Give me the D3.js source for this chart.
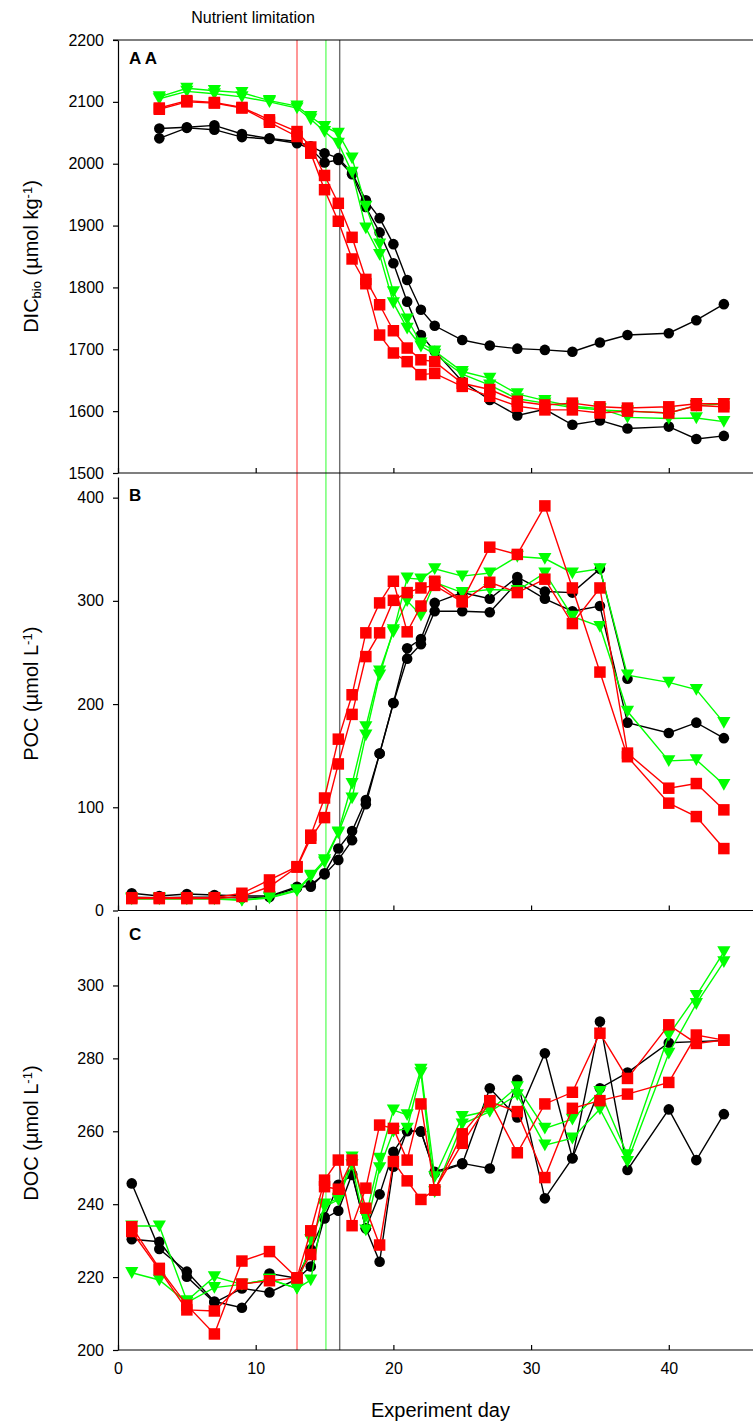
<!DOCTYPE html>
<html><head><meta charset="utf-8">
<script src="https://cdn.jsdelivr.net/npm/d3@7/dist/d3.min.js"></script>
<style>
body{margin:0;background:#fff}
svg{display:block}
text{font-family:Arial,"Liberation Sans",sans-serif;fill:#000}
</style>
</head><body>
<svg id="chart" width="753" height="1422"></svg>
<script>
// ---------- data ----------
const days = [1,3,5,7,9,11,13,14,15,16,17,18,19,20,21,22,23,25,27,29,31,33,35,37,40,42,44];

// Panel A: DIC_bio (µmol kg-1)
const dicBlack1 = [null,2057,2059,2062,2048,2041,2036,2028,2017,2009,1985,1941,1912,1870,1812,1764,1738,1715,1706,1701,1699,1696,1711,1723,1726,1747,1773];
const dicBlack2 = [null,2041,2058,2055,2043,2040,2033,2024,2002,2006,1983,1930,1889,1839,1777,1723,1697,1648,1618,1593,1603,1578,1585,1572,1575,1555,1560];
const dicGreen1 = [null,2108,2122,2118,2115,2102,2093,2076,2060,2049,2009,1931,1870,1793,1749,1710,1697,1664,1653,1628,1617,1608,1604,1590,1588,1589,1583];
const dicGreen2 = [null,2105,2117,2113,2108,2100,2090,2072,2052,2033,1986,1896,1853,1775,1734,1705,1692,1660,1642,1620,1613,1606,1602,1600,1597,1609,1612];
const dicRed1   = [null,2090,2102,2099,2091,2071,2052,2027,1981,1936,1881,1813,1772,1730,1702,1683,1680,1645,1635,1616,1610,1613,1607,1605,1607,1612,1612];
const dicRed2   = [null,2088,2100,2098,2090,2067,2044,2017,1958,1907,1846,1806,1723,1694,1680,1659,1661,1640,1624,1608,1602,1602,1597,1600,1597,1609,1607];

// Panel B: POC (µmol L-1)
const pocBlack1 = [16.7,14,16,15,14,14,23,23,36,60,77,107,152,201,254,263,298,308,302,323,309,308,331,224.5,null,null,null];
const pocBlack2 = [13,12.5,13,13,12,13,22,25,35,49,68,103,152,201,244,258,290,290,289,318,302,290,295,182,172,182,167];
const pocGreen1 = [12,12,12,12,10,13,20,34,49,76,123,178,232,270,322,321,331,324,327,343,341,327,331,228,221,214,182];
const pocGreen2 = [11,11,11,11,10,12,19,33,47,75,109,170,228,272,300,286,318,308,311,310,327,285,275,193,145,146,122];
const pocRed1   = [12.4,12.4,12.4,12.4,16.7,29.6,42.5,73,109,166,209,269,298,319,270,295,319,300,352,345,392,312.5,231,149,104,91,60];
const pocRed2   = [11.5,11.5,11.5,11.5,13.6,23,42,70,90,142,190,246,269,300.5,308,312.5,315,299,318,308,321,278,312.5,152.5,118.5,123,97.5];

// Panel C: DOC (µmol L-1)
const docBlack1 = [245.7,227.7,221.5,213.3,211.6,221,219.7,227.6,236.1,238.2,248.3,233.4,224.2,250.3,260.2,259.9,248.9,251.2,249.8,274.1,241.6,252.6,290.1,249.4,266,252.1,264.7];
const docBlack2 = [230.4,229.7,220.1,213,216.9,215.8,219.5,222.9,236.5,245.3,248,233.4,242.7,254.4,260,260,248.5,251,271.8,263.8,281.4,252.6,271.8,276.1,284.3,284.6,284.9];
const docGreen1 = [234,234,213.5,220.1,218,219.4,216.9,230.2,239.3,241.2,252.9,236.6,252.6,265.8,264.5,277,247.5,264,265.7,272.2,260.8,263.3,270.9,253.5,286.4,297.2,309.2];
const docGreen2 = [221.2,219.2,213,217.1,218,219.4,216.9,219.2,240,241.6,250.8,232.9,250,260,260.8,276,243.4,262,265.4,270,256.2,258.1,266.1,251.7,281.4,295,306.5];
const docRed1   = [233.8,222.4,212.3,204.4,224.4,227,219.8,232.7,246.6,252.1,234.1,244.4,261.7,260.8,252.1,267.5,243.9,259.3,268.4,254.1,267.5,270.7,286.9,274.5,289.2,284.1,285];
const docRed2   = [232.5,222,211,210.7,218.1,219,219.8,226.2,244.8,244.1,252.1,238.9,228.8,251.7,246.4,241.3,243.9,256.7,268.1,265.4,247.3,266.3,268.4,270.2,273.4,286.4,285];

// ticks
const xTicks = [0,10,20,30,40];
const dicTicks = [1500,1600,1700,1800,1900,2000,2100,2200];
const pocTicks = [0,100,200,300,400];
const docTicks = [200,220,240,260,280,300];

// nutrient limitation onset (days) per treatment
const limitDays = [13, 15.1, 16.1];
const limitColors = ["#ff6a6a", "#6aff6a", "#6e6e6e"];

// ---------- drawing ----------
const W = 753;
const svg = d3.select("#chart");
const x = d3.scaleLinear().domain([0,46]).range([118, 751.4]);

const panels = [
  {scale: d3.scaleLinear().domain([1500,2200]).range([473,40]), ticks: dicTicks, letter:"A A",
   series:[[dicBlack1,"k"],[dicBlack2,"k"],[dicGreen1,"g"],[dicGreen2,"g"],[dicRed1,"r"],[dicRed2,"r"]], xlabels:false, top:true},
  {scale: d3.scaleLinear().domain([0,420]).range([910.5,477]), ticks: pocTicks, letter:"B",
   series:[[pocBlack1,"k"],[pocBlack2,"k"],[pocGreen1,"g"],[pocGreen2,"g"],[pocRed1,"r"],[pocRed2,"r"]], xlabels:false},
  {scale: d3.scaleLinear().domain([200,319]).range([1350,916.2]), ticks: docTicks, letter:"C",
   series:[[docBlack1,"k"],[docBlack2,"k"],[docGreen1,"g"],[docGreen2,"g"],[docRed1,"r"],[docRed2,"r"]], xlabels:true}
];

const colors = {k:"#000000", g:"#00ff00", r:"#ff0000"};
const sym = {
  k: d3.symbol().type(d3.symbolCircle).size(Math.PI*5.3*5.3)(),
  r: d3.symbol().type(d3.symbolSquare).size(11.5*11.5)(),
  g: "M-6.6,-5.6L6.6,-5.6L0,6.2Z"
};

// vertical nutrient limitation lines (behind data)
const yTop = panels[0].scale.range()[1];
const yBot = panels[2].scale.range()[0];
svg.append("g").selectAll("line").data(limitDays).join("line")
  .attr("x1", d=>x(d)).attr("x2", d=>x(d))
  .attr("y1", yTop).attr("y2", yBot)
  .attr("stroke", (d,i)=>limitColors[i]).attr("stroke-width", 1.4);

const tickFont = "16px";
panels.forEach(p => {
  const y = p.scale;
  const g = svg.append("g");
  // y axis
  const ya = g.append("g").attr("transform", `translate(${x(0)},0)`)
    .call(d3.axisLeft(y).tickValues(p.ticks).tickSize(5).tickSizeOuter(0).tickPadding(9).tickFormat(d3.format("d")));
  ya.selectAll("text").style("font-size",tickFont).style("font-family","Arial, 'Liberation Sans', sans-serif");
  ya.selectAll("line,path").attr("stroke","#000").attr("stroke-width",1.2);
  // x axis
  const xa = g.append("g").attr("transform", `translate(0,${y.range()[0]})`)
    .call(d3.axisBottom(x).tickValues(xTicks).tickSize(-5).tickSizeOuter(0).tickPadding(13)
      .tickFormat(p.xlabels ? d3.format("d") : ""));
  xa.select(".domain").attr("d", `M${x(0)},0H${W}`);
  xa.selectAll("text").style("font-size",tickFont).style("font-family","Arial, 'Liberation Sans', sans-serif");
  xa.selectAll("line,path").attr("stroke","#000").attr("stroke-width",1.2);
  if (p.top) {
    g.append("line").attr("x1", x(0)-5).attr("x2", W).attr("y1", y.range()[1]).attr("y2", y.range()[1])
      .attr("stroke","#000").attr("stroke-width",1.2);
  }
  // panel letter
  g.append("text").attr("x", x(0)+11).attr("y", y.range()[1]+24)
    .style("font-size","17px").style("font-weight","bold").text(p.letter);

  // series
  p.series.forEach(([vals, c]) => {
    const pts = days.map((d,i)=>({d, v: vals[i]})).filter(o => o.v !== null);
    const line = d3.line().x(o=>x(o.d)).y(o=>y(o.v));
    g.append("path").attr("d", line(pts)).attr("fill","none")
      .attr("stroke", colors[c]).attr("stroke-width", 1.4);
    g.append("g").selectAll("path").data(pts).join("path")
      .attr("d", sym[c]).attr("transform", o=>`translate(${x(o.d)},${y(o.v)})`)
      .attr("fill", colors[c]);
  });
});

// titles
svg.append("text").attr("x", 253).attr("y", 23).attr("text-anchor","middle")
  .style("font-size","16px").text("Nutrient limitation");
svg.append("text").attr("x", (x(0)+W)/2 + 5).attr("y", 1417).attr("text-anchor","middle")
  .style("font-size","20px").text("Experiment day");

function yTitle(cy, parts) {
  const t = svg.append("text").attr("transform", `translate(38,${cy}) rotate(-90)`)
    .attr("text-anchor","middle").style("font-size","20px");
  parts.forEach(([s, kind]) => {
    const ts = t.append("tspan").text(s);
    if (kind === "sub") ts.attr("baseline-shift","-25%").style("font-size","13px");
    if (kind === "sup") ts.attr("baseline-shift","45%").style("font-size","13px");
  });
}
const cA = d3.mean(panels[0].scale.range()), cB = d3.mean(panels[1].scale.range()), cC = d3.mean(panels[2].scale.range());
yTitle(cA, [["DIC"],["bio","sub"],[" (µmol kg"],["-1","sup"],[")"]]);
yTitle(cB, [["POC (µmol L"],["-1","sup"],[")"]]);
yTitle(cC, [["DOC (µmol L"],["-1","sup"],[")"]]);
</script>
</body></html>
